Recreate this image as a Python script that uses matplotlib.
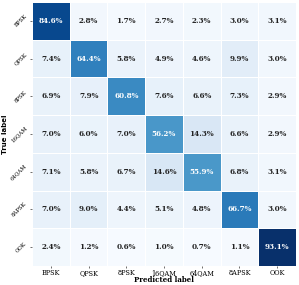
import numpy as np
import matplotlib
matplotlib.use("Agg")
import matplotlib.pyplot as plt

labels = ["BPSK", "QPSK", "8PSK", "16QAM", "64QAM", "8APSK", "OOK"]
row_bpsk = [84.6, 2.8, 1.7, 2.7, 2.3, 3.0, 3.1]
row_qpsk = [7.4, 64.4, 5.8, 4.9, 4.6, 9.9, 3.0]
row_8psk = [6.9, 7.9, 60.8, 7.6, 6.6, 7.3, 2.9]
row_16qam = [7.0, 6.0, 7.0, 56.2, 14.3, 6.6, 2.9]
row_64qam = [7.1, 5.8, 6.7, 14.6, 55.9, 6.8, 3.1]
row_8apsk = [7.0, 9.0, 4.4, 5.1, 4.8, 66.7, 3.0]
row_ook = [2.4, 1.2, 0.6, 1.0, 0.7, 1.1, 93.1]

cm = np.array([row_bpsk, row_qpsk, row_8psk, row_16qam, row_64qam, row_8apsk, row_ook])

plt.rcParams['font.family'] = ['DejaVu Serif']
fig = plt.figure(figsize=(2.99, 2.85), dpi=100)
ax = fig.add_axes([32/299, 19/285, 264/299, 264/285])

n = len(labels)
ax.pcolormesh(np.arange(n + 1), np.arange(n + 1), cm, cmap="Blues",
              vmin=0, vmax=cm.max(), edgecolor="white", linewidth=0.6)
ax.set_xlim(0, n)
ax.set_ylim(n, 0)
for s in ax.spines.values():
    s.set_visible(False)

for i in range(n):
    for j in range(n):
        v = cm[i, j]
        color = "white" if v > 40 else "#222222"
        ax.text(j + 0.5, i + 0.5, f"{v:.1f}%", ha="center", va="center",
                fontsize=5.2, fontweight="bold", color=color)

ax.set_xticks(np.arange(n) + 0.5)
ax.set_yticks(np.arange(n) + 0.5)
ax.set_xticklabels(labels, fontsize=4.7)
ax.set_yticklabels(labels, fontsize=3.9, rotation=45, va="center")
ax.tick_params(length=1.5, width=0.4, pad=1.4)
ax.tick_params(axis="x", pad=0.8)
ax.set_xlabel("Predicted label", fontsize=5, fontweight="bold")
ax.xaxis.set_label_coords(0.5, -10/264)
ax.set_ylabel("True label", fontsize=5, fontweight="bold",
              family="DejaVu Sans")
ax.yaxis.set_label_coords(-23.5/264, 0.5)

fig.savefig("out.png", dpi=100)
